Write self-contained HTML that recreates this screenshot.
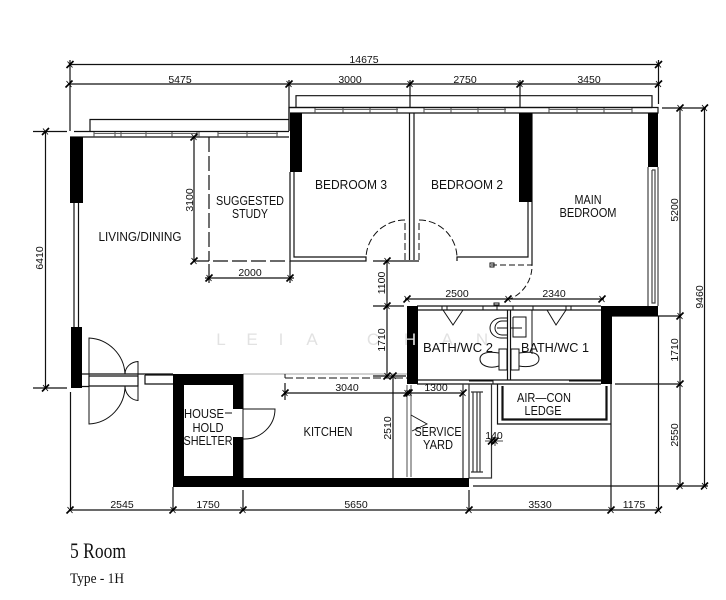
<!DOCTYPE html>
<html><head><meta charset="utf-8"><style>
html,body{margin:0;padding:0;background:#fff}
svg{display:block;filter:blur(.3px)}
text{font-family:"Liberation Sans",sans-serif;fill:#111;font-size:13px;text-anchor:middle}
.d{font-size:10.5px}
.s{font-family:"Liberation Serif",serif;text-anchor:start;fill:#111}
.w{fill:#e2e2e2;font-size:17px}
</style></head><body>
<svg width="726" height="600" viewBox="0 0 726 600" xmlns="http://www.w3.org/2000/svg">
<defs><g id="t"><path d="M-3.5 3.5L3.5-3.5" stroke="#000" stroke-width="1.7"/><path d="M-2.5-3L2.5 3" stroke="#000" stroke-width=".8"/></g></defs>
<rect width="726" height="600" fill="#fff"/>
<g fill="none" stroke="#111" stroke-width="1.200">
<!-- top dims -->
<path d="M69 64.500H659M69 84H659M70 60V131M289 80V131M410 80V108M520 80V108M658.500 60V104"/>
<!-- ledges -->
<path d="M90 131V119.500H289M296 108V95.700H652V107M289 131V107.500H652"/>
<path d="M289.500 107.500H658V113H290M74 131.500H289M70 137H289"/>
<!-- windows -->
<path d="M94 132V137M115 132V137M121 132V137M146 132V137M172 132V137M197 132V137M199 132V137M218 132V137M247 132V137M277 132V137" stroke="#444" stroke-width="1"/>
<path d="M94 133.500H197M218 133.500H278" stroke="#666" stroke-width="1"/>
<path d="M315 108V113M343 108V113M370 108V113M397 108V113M424 108V113M451 108V113M478 108V113M505 108V113M549 108V113M577 108V113M604 108V113M632 108V113" stroke="#444" stroke-width="1"/>
<path d="M315 109.500H398M424 109.500H506M549 109.500H632" stroke="#666" stroke-width="1"/>
<!-- thin walls -->
<path d="M74 203V327M78.500 203V327"/>
<path d="M290 172V261H366V257H294V172M409.500 113V260M414 113V260M404 261H419M457 261V257H528V202M532 113V265"/>
<path d="M648 167V306M658 167V306M652 170V303H655V170H652" stroke="#444"/>
<!-- study -->
<path d="M209 137V261M194 261H289" stroke-dasharray="15 4"/>
<path d="M194 137V261M209 264V283M290 261V283M205 278H294"/>
<!-- bed doors -->
<path d="M405 260V220M419 260V220M405 220A39 39 0 0 0 366 258M419 220A38 38 0 0 1 457 258" stroke-dasharray="7 3" stroke-width="1"/>
<path d="M491 265H532A36 36 0 0 1 510 299" stroke-dasharray="6 3" stroke-width="1"/>
<path d="M490 263H494V267H490ZM494 303H499V305H494Z" stroke-width="1"/>
<!-- bath dims -->
<path d="M405 299H604M387 261V376M373 261H404M373 306H404M373 376H406"/>
<!-- bath -->
<path d="M417 306H601M417 310H601M417 380H601M417 384H601M507.500 310V380M510.500 310V380"/>
<path d="M442 306V310M447 306V310M483 306V310M497 306V310M513 306V310M533 306V310M566 306V310M571 306V310M469 381H493V384M569 381H601" stroke-width="1"/>
<path d="M443 310L453 325L463 310M547 310L556 325L566 310" stroke-width="1"/>
<path d="M507 318H501A11 10 0 0 0 501 338H507M507 321H502A7 7 0 0 0 502 335H507M497 328H507M510 328H522M513 317V337H526V317H513M532 310V354" stroke-width="1"/>
<path d="M499 349H507V370H499ZM511 349H519V370H511Z" stroke-width="1"/>
<path d="M499 353C488 351 480 353 480 359C480 366 490 369 499 366M519 353C532 351 539 353 539 359C539 365 530 368 519 366" stroke-width="1"/>
<!-- aircon -->
<path d="M497.500 384V424H611M503 386V419H606V386M502 386V420H607V386"/>
<!-- service yard -->
<path d="M407 385V477M411 385V477" stroke="#777" stroke-width="1.300"/>
<path d="M411 415L427 424L412 431" stroke-width=".9"/>
<path d="M463 384V478M469 384V478M491.500 384V478H469M471 392H483M473 392V472M477 392V472M480 392V472M471 472H483" stroke="#333"/>
<path d="M393 376V478M285 393H463M285 383V400"/>
<path d="M485 441H503M491.500 436V446M495 436V446" stroke-width=".8"/>
<!-- kitchen / corridor -->
<path d="M243 374H407" stroke-width=".7" stroke="#888"/>
<path d="M285 378H407M285 374V378" stroke-dasharray="8 3" stroke-width="1"/>
<!-- right wall dims -->
<path d="M662 108H706M680 108V486M704.500 108V486M611 316H680M615 384H680M473 486H708M658.500 316V510M611 384V510M469 490V510"/>
<!-- left dim -->
<path d="M33 131.500H67M33 388H67M45.500 131V388"/>
<!-- bottom dims -->
<path d="M69 510H658M70.500 392V510M173 487V510M243 490V510"/>
<!-- entrance -->
<path d="M82 374H173M82 386.500H89M89 376H138V386H89ZM145 375H173M145 375V384H173M138 374H145"/>
<path d="M89 376V338A38 38 0 0 1 125 374M89 386V424A38 38 0 0 0 125 386M138 376V361.500C131 362 125 367 125 374M138 386V400.500C131 400 125 394 125 386" stroke-width="1"/>
<!-- shelter door -->
<path d="M243 409H275A31 30 0 0 1 243 439M243 409V439M225 413H232" stroke-width="1"/>
</g>
<!-- solid walls -->
<g fill="#000">
<rect x="70" y="137" width="13" height="66"/>
<rect x="71" y="327" width="11" height="61"/>
<rect x="290" y="113" width="12" height="59"/>
<rect x="519" y="113" width="13" height="89"/>
<rect x="648" y="113" width="10" height="54"/>
<rect x="407" y="306" width="11" height="78"/>
<rect x="601" y="306" width="11" height="78"/>
<rect x="601" y="306" width="57" height="10"/>
<rect x="173" y="374" width="70" height="11"/>
<rect x="173" y="374" width="11" height="113"/>
<rect x="233" y="374" width="10.500" height="35"/>
<rect x="233" y="437" width="10.500" height="50"/>
<rect x="173" y="476" width="70" height="11"/>
<rect x="243" y="478" width="226" height="9"/>
</g>
<!-- ticks -->
<use href="#t" x="70" y="64.500"/><use href="#t" x="658.500" y="64.500"/><use href="#t" x="69" y="84"/><use href="#t" x="289" y="84"/><use href="#t" x="410" y="84"/><use href="#t" x="520" y="84"/><use href="#t" x="658.500" y="84"/>
<use href="#t" x="194" y="137"/><use href="#t" x="194" y="261"/><use href="#t" x="209" y="278"/><use href="#t" x="290" y="278"/>
<use href="#t" x="45.500" y="131.500"/><use href="#t" x="45.500" y="388"/>
<use href="#t" x="387" y="261"/><use href="#t" x="387" y="306"/><use href="#t" x="387" y="376"/><use href="#t" x="407" y="299"/><use href="#t" x="508" y="299"/><use href="#t" x="602" y="299"/>
<use href="#t" x="285" y="393"/><use href="#t" x="407" y="393"/><use href="#t" x="409" y="393"/><use href="#t" x="463" y="393"/><use href="#t" x="393" y="376"/>
<use href="#t" x="491.500" y="441"/><use href="#t" x="495" y="441"/>
<use href="#t" x="680" y="108"/><use href="#t" x="704.500" y="108"/><use href="#t" x="680" y="316"/><use href="#t" x="680" y="384"/><use href="#t" x="680" y="486"/><use href="#t" x="704.500" y="486"/>
<use href="#t" x="70" y="510"/><use href="#t" x="173" y="510"/><use href="#t" x="243" y="510"/><use href="#t" x="469" y="510"/><use href="#t" x="611" y="510"/><use href="#t" x="658.500" y="510"/>
<!-- watermark -->
<text class="w" x="221" y="345">L</text><text class="w" x="252" y="345">E</text><text class="w" x="281" y="345">I</text><text class="w" x="312" y="345">A</text><text class="w" x="373" y="345">C</text><text class="w" x="410" y="345">H</text><text class="w" x="447" y="345">A</text><text class="w" x="482" y="345">N</text>
<!-- dims text -->
<text class="d" x="364" y="63">14675</text><text class="d" x="180" y="83">5475</text><text class="d" x="350" y="83">3000</text><text class="d" x="465" y="83">2750</text><text class="d" x="589" y="83">3450</text>
<text class="d" x="250" y="276">2000</text><text class="d" x="457" y="297">2500</text><text class="d" x="554" y="297">2340</text><text class="d" x="347" y="391">3040</text><text class="d" x="436" y="391">1300</text><text class="d" x="494" y="439">140</text>
<text class="d" x="122" y="508">2545</text><text class="d" x="208" y="508">1750</text><text class="d" x="356" y="508">5650</text><text class="d" x="540" y="508">3530</text><text class="d" x="634" y="508">1175</text>
<text class="d" transform="translate(43,258) rotate(-90)">6410</text>
<text class="d" transform="translate(193,200) rotate(-90)">3100</text>
<text class="d" transform="translate(385,283) rotate(-90)">1100</text>
<text class="d" transform="translate(385,340) rotate(-90)">1710</text>
<text class="d" transform="translate(391,428) rotate(-90)">2510</text>
<text class="d" transform="translate(678,210) rotate(-90)">5200</text>
<text class="d" transform="translate(703,297) rotate(-90)">9460</text>
<text class="d" transform="translate(678,350) rotate(-90)">1710</text>
<text class="d" transform="translate(678,435) rotate(-90)">2550</text>
<!-- labels -->
<g lengthAdjust="spacingAndGlyphs">
<text lengthAdjust="spacingAndGlyphs" x="351" y="189" textLength="72">BEDROOM  3</text>
<text lengthAdjust="spacingAndGlyphs" x="467" y="189" textLength="72">BEDROOM  2</text>
<text lengthAdjust="spacingAndGlyphs" x="140" y="241" textLength="83">LIVING/DINING</text>
<text lengthAdjust="spacingAndGlyphs" x="250" y="205" textLength="68">SUGGESTED</text>
<text lengthAdjust="spacingAndGlyphs" x="250" y="218" textLength="36">STUDY</text>
<text lengthAdjust="spacingAndGlyphs" x="588" y="204" textLength="27">MAIN</text>
<text lengthAdjust="spacingAndGlyphs" x="588" y="217" textLength="57">BEDROOM</text>
<text lengthAdjust="spacingAndGlyphs" x="204" y="418" textLength="40">HOUSE</text>
<text lengthAdjust="spacingAndGlyphs" x="208" y="432" textLength="31">HOLD</text>
<text lengthAdjust="spacingAndGlyphs" x="208" y="445" textLength="49">SHELTER</text>
<text lengthAdjust="spacingAndGlyphs" x="328" y="436" textLength="49">KITCHEN</text>
<text lengthAdjust="spacingAndGlyphs" x="438" y="436" textLength="47">SERVICE</text>
<text lengthAdjust="spacingAndGlyphs" x="438" y="449" textLength="30">YARD</text>
<text lengthAdjust="spacingAndGlyphs" x="458" y="352" textLength="70">BATH/WC  2</text>
<text lengthAdjust="spacingAndGlyphs" x="555" y="352" textLength="68">BATH/WC  1</text>
<text lengthAdjust="spacingAndGlyphs" x="544" y="402" textLength="54">AIR—CON</text>
<text lengthAdjust="spacingAndGlyphs" x="543" y="415" textLength="37">LEDGE</text>
</g>
<text class="s" x="70" y="558" textLength="56" lengthAdjust="spacingAndGlyphs" style="font-size:22px">5 Room</text>
<text class="s" x="70" y="583" textLength="54" lengthAdjust="spacingAndGlyphs" style="font-size:15px">Type - 1H</text>
</svg>
</body></html>
